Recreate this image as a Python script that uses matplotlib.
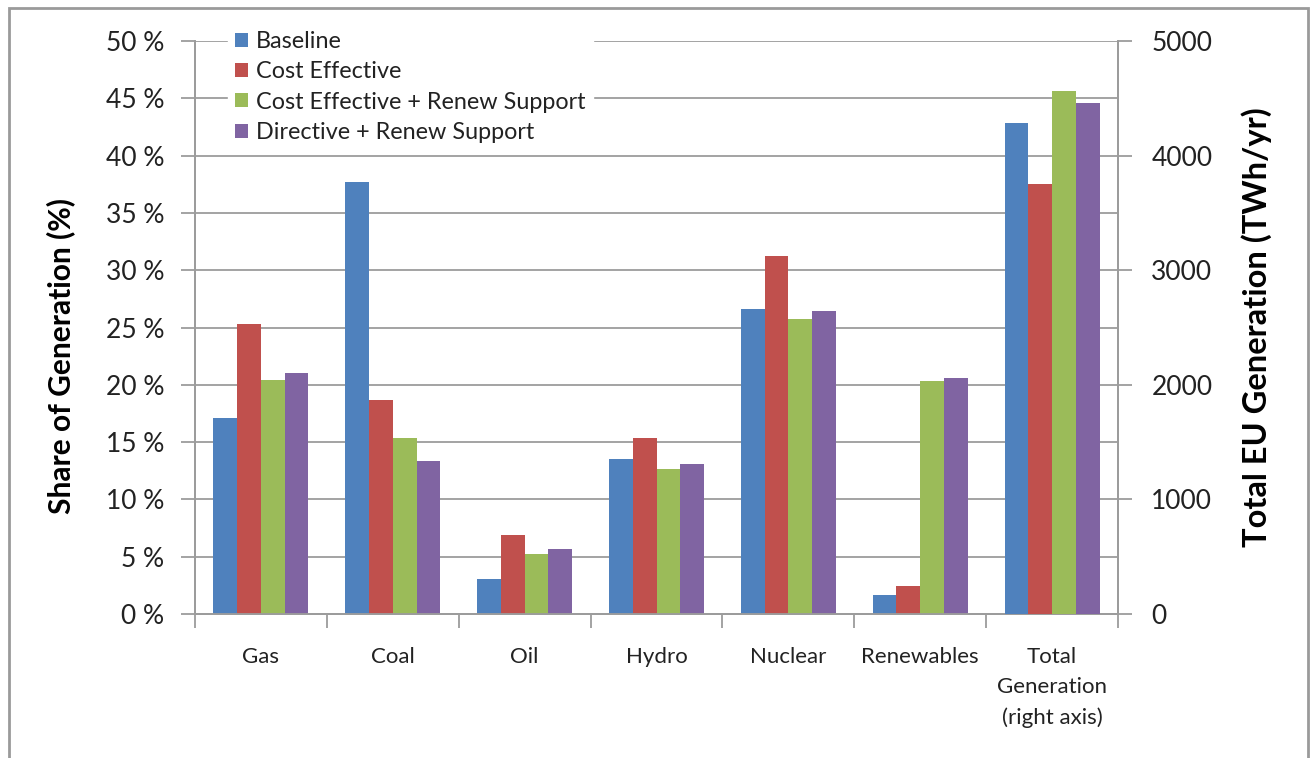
import numpy as np
import matplotlib
matplotlib.use("Agg")
import matplotlib.pyplot as plt
from matplotlib.patches import Rectangle

plt.rcParams['font.family'] = ['Lato', 'DejaVu Sans']

categories = ["Gas", "Coal", "Oil", "Hydro", "Nuclear", "Renewables",
              "Total\nGeneration\n(right axis)"]
scenarios = ["Baseline", "Cost Effective", "Cost Effective + Renew Support",
             "Directive + Renew Support"]
colors = ["#4F81BD", "#C0504D", "#9BBB59", "#8064A2"]

# share of generation (%) for the six fuel groups
baseline = [17.1, 37.7, 3.05, 13.5, 26.6, 1.65]
cost_eff = [25.3, 18.65, 6.85, 15.4, 31.2, 2.45]
ce_renew = [20.45, 15.4, 5.25, 12.65, 25.75, 20.35]
dir_renew = [21.0, 13.35, 5.65, 13.05, 26.4, 20.55]
shares = [baseline, cost_eff, ce_renew, dir_renew]

# total EU generation (TWh/yr), plotted against the right axis
total_gen = [4285, 3755, 4560, 4455]

pct_ticks = list(range(0, 51, 5))
twh_ticks = list(range(0, 5001, 1000))

fig = plt.figure(figsize=(13.11, 7.58), dpi=100)
fig.patches.append(Rectangle((9 / 1311, -0.05), 1299 / 1311, 1.05 - 8 / 758,
                             transform=fig.transFigure, fill=False,
                             edgecolor="#9a9a9a", linewidth=2))

ax = fig.add_axes([195 / 1311, 1 - 614 / 758, 923 / 1311, 573 / 758])
ax2 = ax.twinx()

x = np.arange(len(categories))
w = 0.18
n_fuel = len(baseline)
handles = []
for i, (vals, col, name) in enumerate(zip(shares, colors, scenarios)):
    off = (i - 1.5) * w
    h = ax.bar(x[:n_fuel] + off, vals, w, color=col, label=name, zorder=3)
    handles.append(h)
    ax2.bar(x[-1] + off, total_gen[i], w, color=col, zorder=3)

ax.set_xlim(-0.5, len(categories) - 0.5)
ax.set_ylim(0, 50)
ax2.set_ylim(0, 5000)

grid_col = "#9c9c9c"
ax.set_yticks(pct_ticks)
ax.set_yticklabels([f"{t} %" for t in pct_ticks])
ax.yaxis.grid(True, color=grid_col, linewidth=1.3, zorder=0)
ax.set_axisbelow(True)
ax2.set_yticks(twh_ticks)
ax2.set_yticklabels([str(t) for t in twh_ticks])

ax.set_xticks(x)
ax.set_xticklabels(categories, fontsize=16, color="#222222", linespacing=1.62,
                   va="top")
ax.set_xticks(np.arange(-0.5, len(categories)), minor=True)
ax.tick_params(axis="x", which="major", length=0, pad=24)
ax.tick_params(axis="x", which="minor", length=10, color=grid_col, width=1.3)
ax.tick_params(axis="y", length=10, color=grid_col, width=1.3, labelsize=19,
               labelcolor="#222222", pad=12)
ax2.tick_params(axis="y", length=10, color=grid_col, width=1.3, labelsize=19,
                labelcolor="#222222", pad=14)

for a in (ax, ax2):
    a.spines["top"].set_visible(False)
    for s in ("left", "right", "bottom"):
        a.spines[s].set_color(grid_col)
        a.spines[s].set_linewidth(1.3)

ax.set_ylabel("Share of Generation (%)", fontsize=21.5, fontweight="bold")
ax.yaxis.set_label_coords(-0.130, 0.45)
ax2.set_ylabel("Total EU Generation (TWh/yr)", fontsize=23.5,
               fontweight="bold", rotation=90)
ax2.yaxis.set_label_coords(1.134, 0.5)

leg = ax2.legend(handles, scenarios, loc="upper left",
                 bbox_to_anchor=(228 / 1311, 1 - 24 / 758),
                 bbox_transform=fig.transFigure, fontsize=16.8,
                 frameon=True, fancybox=False, edgecolor="white",
                 facecolor="white", framealpha=1, handlelength=0.55,
                 handleheight=0.55, handletextpad=0.35, labelspacing=0.4,
                 borderpad=0.3, borderaxespad=0)
leg.set_zorder(5)
for t in leg.get_texts():
    t.set_color("#222222")

fig.savefig("out.png", dpi=100)
